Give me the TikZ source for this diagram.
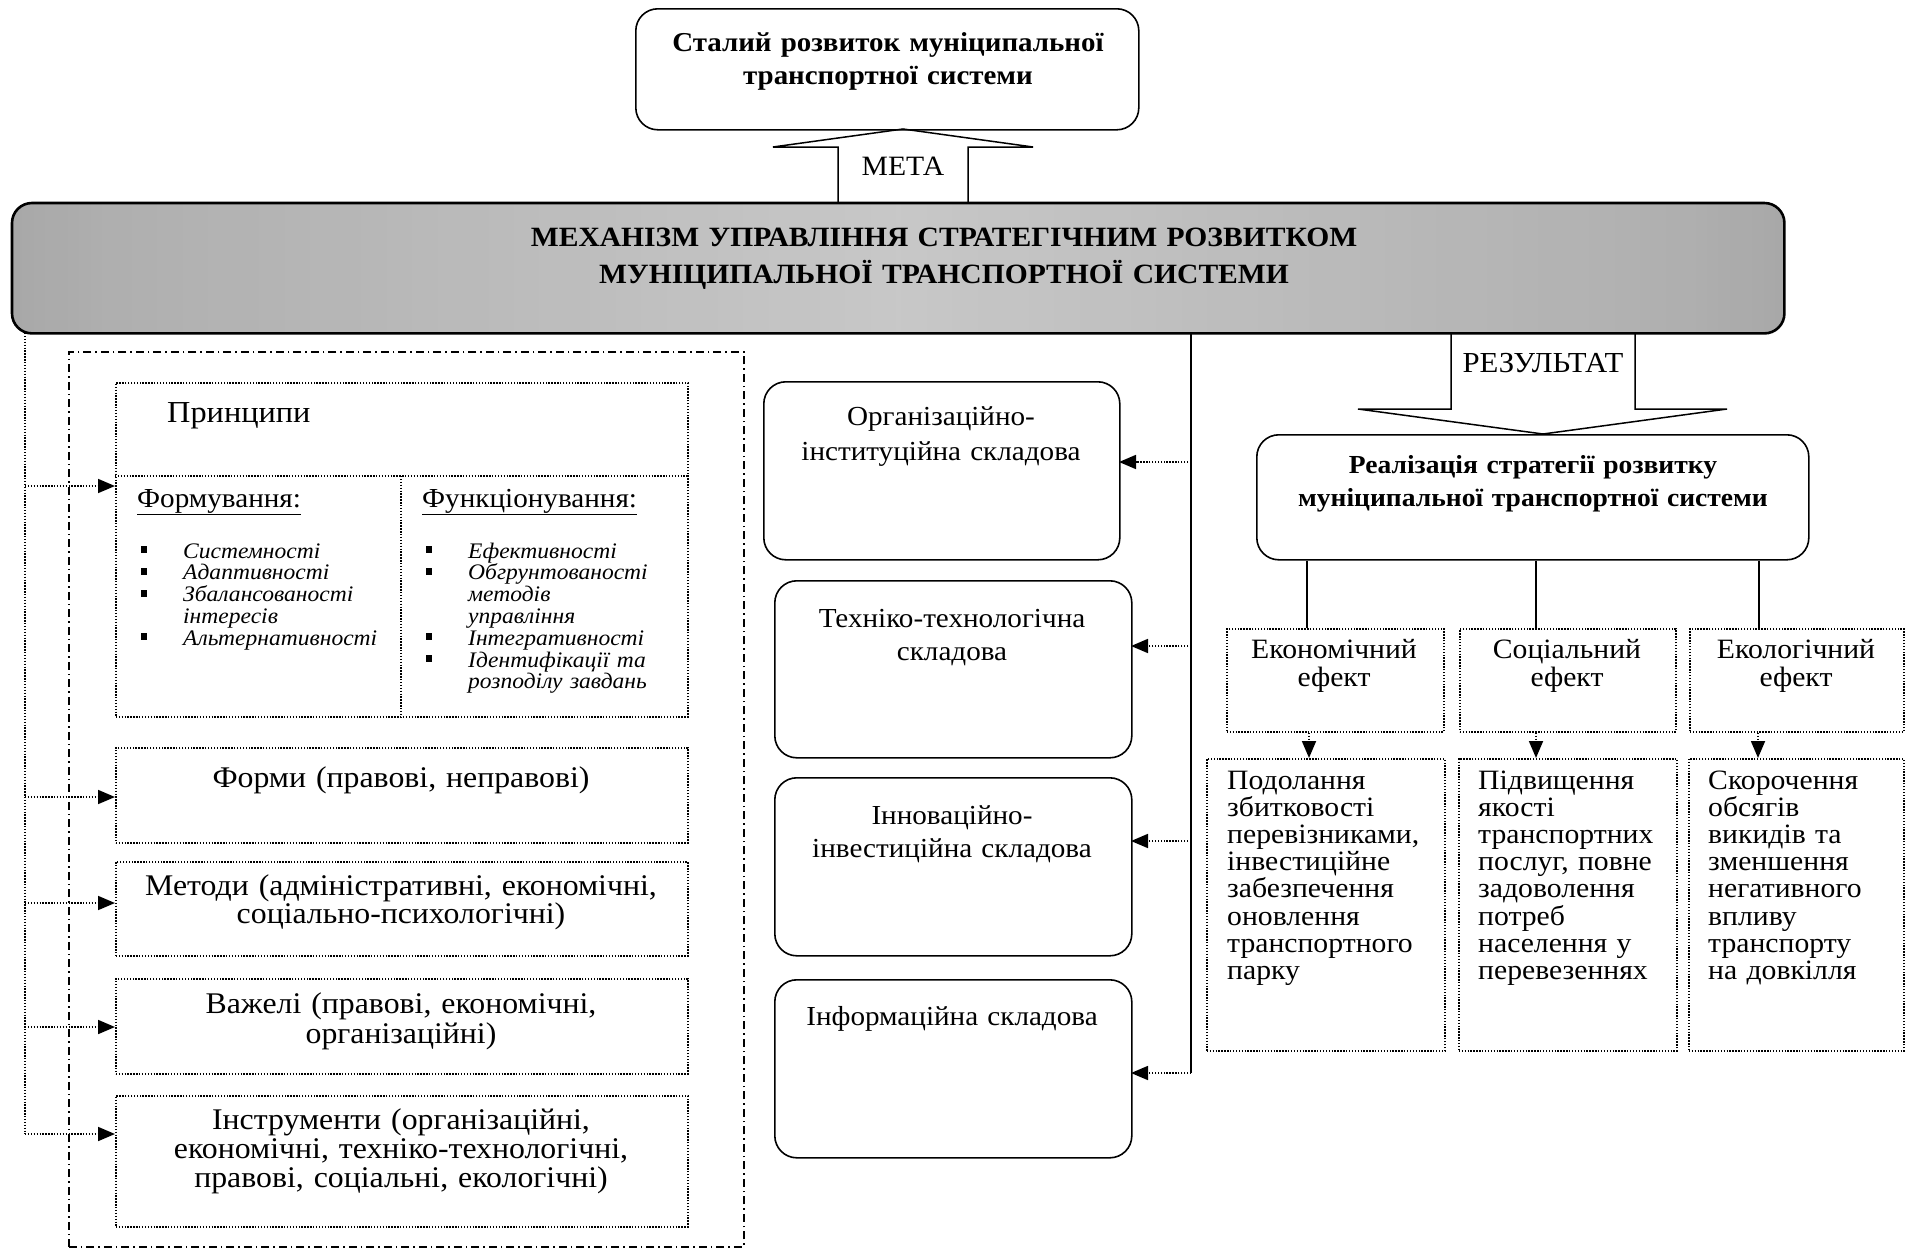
\documentclass[tikz,border=0pt]{standalone}
\usepackage{fontspec}
\setmainfont[FakeStretch=1.06]{Liberation Serif}
\usetikzlibrary{arrows.meta,positioning}

\newcommand{\fsz}[2]{\fontsize{#1}{#2}\selectfont}
\newcommand{\sqbullet}{\makebox[42pt][l]{\rule[5pt]{6pt}{7pt}}}

\pgfdeclarehorizontalshading{barshade}{100bp}{%
  color(0bp)=(black!52); color(10bp)=(black!42); color(28bp)=(black!20);
  color(50bp)=(black!8); color(72bp)=(black!20); color(90bp)=(black!42);
  color(100bp)=(black!52)}

\tikzset{
  rbox/.style={draw, rounded corners=22pt, line width=1.6pt, inner sep=0, anchor=north west},
  dotbox/.style={draw, line width=1.7pt, dash pattern=on 1.4pt off 1.5pt, inner sep=0, anchor=north west},
  ctext/.style={inner sep=0, anchor=base, align=center, text width=#1},
  ltext/.style={inner sep=0, anchor=base west, align=left, text width=#1},
  conn/.style={line width=1.5pt},
  dotline/.style={line width=1.7pt, dash pattern=on 1.4pt off 1.5pt},
  dotarrow/.style={dotline, -{Triangle[length=17pt,width=14pt]}},
  blockarrow/.style={draw, line width=1.5pt, fill=white, line join=miter}
}

\begin{document}
\begin{tikzpicture}[x=1pt, y=-1pt]
  \useasboundingbox (0,0) rectangle (1905,1250);

  % goal and result arrows
  \draw[blockarrow] (838,203) -- (838,147) -- (773,147) -- (903,129) -- (1033,147) -- (968,147) -- (968,203);
  \draw[blockarrow] (1451,333) -- (1451,409) -- (1358,409) -- (1543,434) -- (1727,409) -- (1635,409) -- (1635,333);
  \node (metaT) [ctext=140, font=\fsz{28}{30}] at (903,175) {МЕТА};
  \node (resT) [ctext=200, font=\fsz{29}{30}] at (1543,372) {РЕЗУЛЬТАТ};

  \node (goal) [rbox, minimum width=503, minimum height=121] at (635,8) {};
  \node (goalT) [ctext=500, font=\bfseries\fsz{27.3}{32.5}] at (888,51.5) {Сталий розвиток муніципальної\\транспортної системи};

  \node (mech) [rounded corners=20pt, shade, shading=barshade,
    minimum width=1772, minimum height=130, anchor=north west, inner sep=0] at (12,203) {};
  \path[rounded corners=20pt, top color=black!70, middle color=white, bottom color=black!70, fill opacity=0.22]
    (mech.north west) rectangle (mech.south east);
  \draw[line width=2.6pt, rounded corners=20pt] (mech.north west) rectangle (mech.south east);
  \node (mechT) [ctext=1100, font=\bfseries\fsz{27.9}{37}] at (944,246)
    {МЕХАНІЗМ УПРАВЛІННЯ СТРАТЕГІЧНИМ РОЗВИТКОМ\\МУНІЦИПАЛЬНОЇ ТРАНСПОРТНОЇ СИСТЕМИ};

  % right part
  \node (real) [rbox, minimum width=552, minimum height=125] at (1256,434) {};
  \node (realT) [ctext=540, font=\bfseries\fsz{26}{33}] at (1533,473) {Реалізація стратегії розвитку\\муніципальної транспортної системи};

  \node (econ) [dotbox, minimum width=217, minimum height=103] at (1226,628) {};
  \node (soc)  [dotbox, minimum width=216, minimum height=103] at (1459,628) {};
  \node (env)  [dotbox, minimum width=214, minimum height=103] at (1689,628) {};
  \node (econT) [ctext=210, font=\fsz{28}{28}] at (1334,658) {Економічний\\ефект};
  \node (socT)  [ctext=210, font=\fsz{28}{28}] at (1567,658) {Соціальний\\ефект};
  \node (envT)  [ctext=210, font=\fsz{28}{28}] at (1796,658) {Екологічний\\ефект};

  \node (econR) [dotbox, minimum width=238, minimum height=292] at (1206,758) {};
  \node (socR)  [dotbox, minimum width=218, minimum height=292] at (1458,758) {};
  \node (envR)  [dotbox, minimum width=215, minimum height=292] at (1688,758) {};
  \node (econRT) [ltext=240, font=\fsz{28}{27.2}] at (1227,789)
    {Подолання\\збитковості\\перевізниками,\\інвестиційне\\забезпечення\\оновлення\\транспортного\\парку};
  \node (socRT)  [ltext=240, font=\fsz{28}{27.2}] at (1478,789)
    {Підвищення\\якості\\транспортних\\послуг, повне\\задоволення\\потреб\\населення у\\перевезеннях};
  \node (envRT)  [ltext=240, font=\fsz{28}{27.2}] at (1708,789)
    {Скорочення\\обсягів\\викидів та\\зменшення\\негативного\\впливу\\транспорту\\на довкілля};

  \coordinate (econIn) at (1307,628);
  \coordinate (socIn)  at (1536,628);
  \coordinate (envIn)  at (1759,628);
  \foreach \p in {econIn,socIn,envIn}
    \draw[conn] (\p |- real.south) -- (\p);

  \coordinate (econOut) at (1309,758);
  \coordinate (socOut)  at (1536,758);
  \coordinate (envOut)  at (1758,758);
  \draw[dotarrow] (econOut |- econ.south) -- (econOut);
  \draw[dotarrow] (socOut |- soc.south) -- (socOut);
  \draw[dotarrow] (envOut |- env.south) -- (envOut);

  % middle column
  \node (org)   [rbox, minimum width=356, minimum height=178] at (763,381) {};
  \node (tech)  [rbox, minimum width=357, minimum height=177] at (774,580) {};
  \node (innov) [rbox, minimum width=357, minimum height=178] at (774,777) {};
  \node (info)  [rbox, minimum width=357, minimum height=178] at (774,979) {};
  \node (orgT)   [ctext=350, font=\fsz{27.5}{35}] at (941,425) {Організаційно-\\інституційна складова};
  \node (techT)  [ctext=350, font=\fsz{27.5}{33}] at (952,627) {Техніко-технологічна\\складова};
  \node (innovT) [ctext=350, font=\fsz{27.5}{33}] at (952,824) {Інноваційно-\\інвестиційна складова};
  \node (infoT)  [ctext=350, font=\fsz{27.5}{32}] at (952,1025) {Інформаційна складова};

  \coordinate (mtop) at (1191,333);
  \coordinate (orgIn)   at (1119,462);
  \coordinate (techIn)  at (1131,646);
  \coordinate (innovIn) at (1131,841);
  \coordinate (infoIn)  at (1131,1073);
  \draw[conn] (mtop) -- (mtop |- infoIn);
  \foreach \p in {orgIn,techIn,innovIn,infoIn}
    \draw[dotarrow] (mtop |- \p) -- (\p);

  % left part
  \node (frame) [draw, line width=1.5pt, dash pattern=on 8pt off 4pt on 1.5pt off 4pt,
    minimum width=675, minimum height=895, anchor=north west, inner sep=0] at (68,351) {};

  \node (princ) [dotbox, minimum width=572, minimum height=334] at (115,382) {};
  \coordinate (pdiv) at (401,476);
  \draw[dotline] (princ.west |- pdiv) -- (princ.east |- pdiv);
  \draw[dotline] (pdiv) -- (pdiv |- princ.south);
  \node (princT) [ltext=300, font=\fsz{30.5}{31}] at (167,422) {Принципи};
  \node (formH) [ltext=260, font=\fsz{27.5}{28}] at (137,507) {\underline{Формування:}};
  \node (funcH) [ltext=260, font=\fsz{27.5}{28}] at (422,507) {\underline{Функціонування:}};
  \node (formL) [ltext=260, font=\itshape\fsz{22.2}{21.8}] at (141,558)
    {\sqbullet Системності\\\sqbullet Адаптивності\\\sqbullet Збалансованості\\\hspace*{42pt}інтересів\\\sqbullet Альтернативності};
  \node (funcL) [ltext=260, font=\itshape\fsz{22.2}{21.8}] at (426,558)
    {\sqbullet Ефективності\\\sqbullet Обгрунтованості\\\hspace*{42pt}методів\\\hspace*{42pt}управління\\\sqbullet Інтегративності\\\sqbullet Ідентифікації та\\\hspace*{42pt}розподілу завдань};

  \node (forms) [dotbox, minimum width=572, minimum height=95] at (115,747) {};
  \node (meth)  [dotbox, minimum width=572, minimum height=94] at (115,861) {};
  \node (lev)   [dotbox, minimum width=572, minimum height=95] at (115,978) {};
  \node (inst)  [dotbox, minimum width=572, minimum height=131] at (115,1095) {};
  \node (formsT) [ctext=570, font=\fsz{30}{29}] at (401,787) {Форми (правові, неправові)};
  \node (methT)  [ctext=570, font=\fsz{30}{28.5}] at (401,895) {Методи (адміністративні, економічні,\\соціально-психологічні)};
  \node (levT)   [ctext=570, font=\fsz{30}{30}] at (401,1013) {Важелі (правові, економічні,\\організаційні)};
  \node (instT)  [ctext=570, font=\fsz{30}{29}] at (401,1129) {Інструменти (організаційні,\\економічні, техніко-технологічні,\\правові, соціальні, екологічні)};

  \coordinate (ltop) at (25,333);
  \coordinate (princIn) at (115,486);
  \coordinate (formsIn) at (115,797);
  \coordinate (methIn)  at (115,903);
  \coordinate (levIn)   at (115,1027);
  \coordinate (instIn)  at (115,1134);
  \draw[dotline] (ltop) -- (ltop |- instIn);
  \foreach \p in {princIn,formsIn,methIn,levIn,instIn}
    \draw[dotarrow] (ltop |- \p) -- (\p);
\end{tikzpicture}
\end{document}
